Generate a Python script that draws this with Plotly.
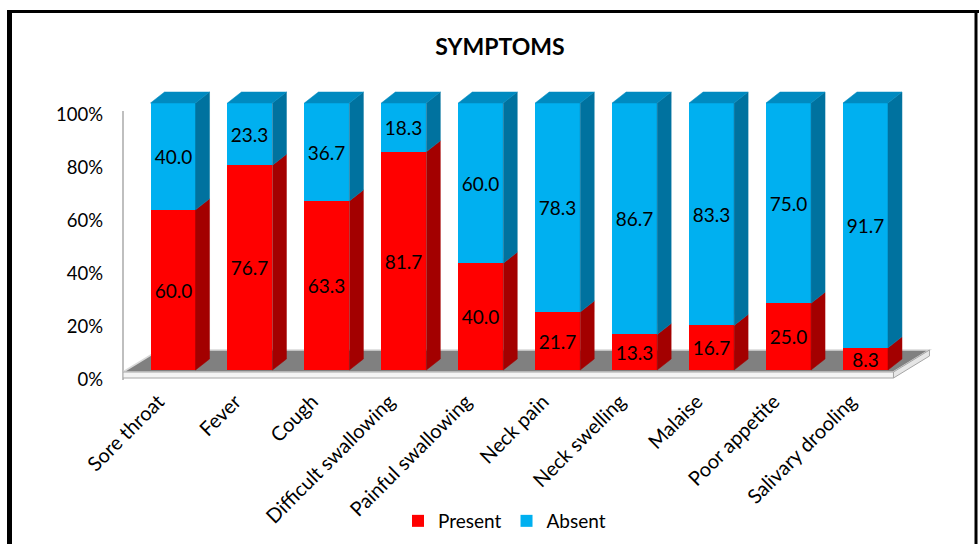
import plotly.graph_objects as go

# ---- data -------------------------------------------------------------
categories = ["Sore throat", "Fever", "Cough", "Difficult swallowing",
              "Painful swallowing", "Neck pain", "Neck swelling", "Malaise",
              "Poor appetite", "Salivary drooling"]
present = [60.0, 76.7, 63.3, 81.7, 40.0, 21.7, 13.3, 16.7, 25.0, 8.3]
absent = [40.0, 23.3, 36.7, 18.3, 60.0, 78.3, 86.7, 83.3, 75.0, 91.7]
y_tick_values = [0, 20, 40, 60, 80, 100]
y_tick_labels = ["0%", "20%", "40%", "60%", "80%", "100%"]

# ---- styling ----------------------------------------------------------
FONT = "Lato"
RED, RED_SIDE = "#FF0000", "#A30000"
BLUE, BLUE_SIDE, BLUE_TOP = "#00B0F0", "#00729F", "#008AC0"

W, H = 979, 544
ML, MR, MT, MB = 123, 44, 85, 164
PLOT_W, PLOT_H = W - ML - MR, H - MT - MB

STEP_PX = 76.94                     # pixels per category
X_RANGE = [-0.65, -0.65 + PLOT_W / STEP_PX]
LABEL_PX = 2.655                    # pixels per percent on the labelled axis
BAR_PX = 2.67                       # pixels per percent on the bar axis
Y1_RANGE = [0, PLOT_H / LABEL_PX]
Y2_RANGE = [-10 / BAR_PX, (PLOT_H - 10) / BAR_PX]

BAR_W = 0.585                       # front face width (category units)
DEPTH_X = 14 / STEP_PX              # 3-D depth offset
DEPTH_Y = 11 / BAR_PX
TICK_SHIFT = -0.19                  # rotated category labels sit left of the bar

x_idx = list(range(len(categories)))
fig = go.Figure()

# an empty trace keeps the labelled axis subplot alive
fig.add_trace(go.Scatter(x=[None], y=[None], yaxis="y", showlegend=False,
                         hoverinfo="skip"))

# front faces
for name, vals, color in (("Present", present, RED), ("Absent", absent, BLUE)):
    fig.add_trace(go.Bar(
        x=x_idx, y=vals, name=name, yaxis="y2", width=BAR_W,
        marker=dict(color=color, line=dict(width=0)),
        text=[f"{v:.1f}" for v in vals], textposition="inside",
        insidetextanchor="middle", textangle=0,
        textfont=dict(family=FONT, size=19, color="black"),
        hoverinfo="skip"))


def face(xs, ys, color):
    fig.add_trace(go.Scatter(
        x=xs + [xs[0]], y=ys + [ys[0]], yaxis="y2", mode="lines",
        fill="toself", fillcolor=color, line=dict(width=0.5, color=color),
        showlegend=False, hoverinfo="skip"))


# side and top faces derived from the stacked values
for i, (p, a) in enumerate(zip(present, absent)):
    xl, xr = i - BAR_W / 2, i + BAR_W / 2
    top = p + a
    face([xr, xr + DEPTH_X, xr + DEPTH_X, xr],
         [0, DEPTH_Y, p + DEPTH_Y, p], RED_SIDE)
    face([xr, xr + DEPTH_X, xr + DEPTH_X, xr],
         [p, p + DEPTH_Y, top + DEPTH_Y, top], BLUE_SIDE)
    face([xl, xl + DEPTH_X, xr + DEPTH_X, xr],
         [top, top + DEPTH_Y, top + DEPTH_Y, top], BLUE_TOP)

# floor slab beneath the bars (x / bar-axis units)
FLOOR_FRONT_L = X_RANGE[0]
FLOOR_FRONT_R = len(categories) - 1 + (893 - 865) / STEP_PX
FLOOR_SHIFT_X = 36 / STEP_PX
FLOOR_BOTTOM = -8 / BAR_PX
FLOOR_FRONT_TOP = -2 / BAR_PX
FLOOR_BACK = 20 / BAR_PX


def poly(pts):
    return "M " + " L ".join(f"{x},{y}" for x, y in pts) + " Z"


shapes = [
    # top surface
    dict(type="path", xref="x", yref="y2", layer="below",
         path=poly([(FLOOR_FRONT_L, FLOOR_FRONT_TOP), (FLOOR_FRONT_R, FLOOR_FRONT_TOP),
                    (FLOOR_FRONT_R + FLOOR_SHIFT_X, FLOOR_BACK),
                    (FLOOR_FRONT_L + FLOOR_SHIFT_X, FLOOR_BACK)]),
         fillcolor="#808080", line=dict(color="#d9d9d9", width=1.5)),
    # front edge
    dict(type="path", xref="x", yref="y2", layer="below",
         path=poly([(FLOOR_FRONT_L, FLOOR_BOTTOM), (FLOOR_FRONT_R, FLOOR_BOTTOM),
                    (FLOOR_FRONT_R, FLOOR_FRONT_TOP), (FLOOR_FRONT_L, FLOOR_FRONT_TOP)]),
         fillcolor="#f4f4f4", line=dict(color="#a6a6a6", width=1)),
    # right edge
    dict(type="path", xref="x", yref="y2", layer="below",
         path=poly([(FLOOR_FRONT_R, FLOOR_BOTTOM), (FLOOR_FRONT_R + FLOOR_SHIFT_X,
                                                     FLOOR_BACK - 6 / BAR_PX),
                    (FLOOR_FRONT_R + FLOOR_SHIFT_X, FLOOR_BACK),
                    (FLOOR_FRONT_R, FLOOR_FRONT_TOP)]),
         fillcolor="#e6e6e6", line=dict(color="#a6a6a6", width=1)),
    # value axis line
    dict(type="line", xref="paper", yref="y", x0=0, x1=0, y0=0, y1=(380 - 111) / LABEL_PX,
         line=dict(color="#bfbfbf", width=2), layer="below"),
]


# black frame around the chart
def px_x(p):
    return (p - ML) / PLOT_W


def px_y(p):
    return (H - MB - p) / PLOT_H


shapes += [
    dict(type="line", xref="paper", yref="paper", x0=px_x(9.5), x1=px_x(9.5),
         y0=px_y(10), y1=px_y(H + 10), line=dict(color="black", width=5)),
    dict(type="line", xref="paper", yref="paper", x0=px_x(7), x1=px_x(W + 5),
         y0=px_y(11.5), y1=px_y(11.5), line=dict(color="black", width=3)),
    dict(type="line", xref="paper", yref="paper", x0=px_x(976), x1=px_x(976),
         y0=px_y(10), y1=px_y(H + 10), line=dict(color="black", width=3)),
]

fig.update_layout(
    width=W, height=H, template="none",
    margin=dict(l=ML, r=MR, t=MT, b=MB, pad=0),
    paper_bgcolor="white", plot_bgcolor="white",
    barmode="stack", bargap=0,
    font=dict(family=FONT, size=18, color="black"),
    title=dict(text="<b>SYMPTOMS</b>", xref="container", yref="container",
               x=500 / W, y=1 - 47 / H, xanchor="center", yanchor="middle",
               font=dict(family=FONT, size=23, color="black")),
    xaxis=dict(range=X_RANGE, tickvals=[i + TICK_SHIFT for i in x_idx],
               ticktext=categories, tickangle=-45, showgrid=False,
               zeroline=False, showline=False, ticks="", automargin=False,
               ticklabelstandoff=5,
               tickfont=dict(family=FONT, size=20, color="black")),
    yaxis=dict(range=Y1_RANGE, tickvals=y_tick_values, ticktext=y_tick_labels,
               showgrid=False, zeroline=False, showline=False, ticks="",
               ticklabelstandoff=19, automargin=False,
               tickfont=dict(family=FONT, size=18.5, color="black")),
    yaxis2=dict(range=Y2_RANGE, overlaying="y", side="left", visible=False,
                showgrid=False, zeroline=False),
    legend=dict(orientation="h", xref="container", yref="container",
                x=398 / W, y=1 - 521 / H, xanchor="left", yanchor="middle",
                font=dict(family=FONT, size=19, color="black"),
                bgcolor="rgba(0,0,0,0)", traceorder="normal"),
    uniformtext=dict(minsize=19, mode="show"),
    shapes=shapes,
    showlegend=True,
)

fig.write_html("out.html")
